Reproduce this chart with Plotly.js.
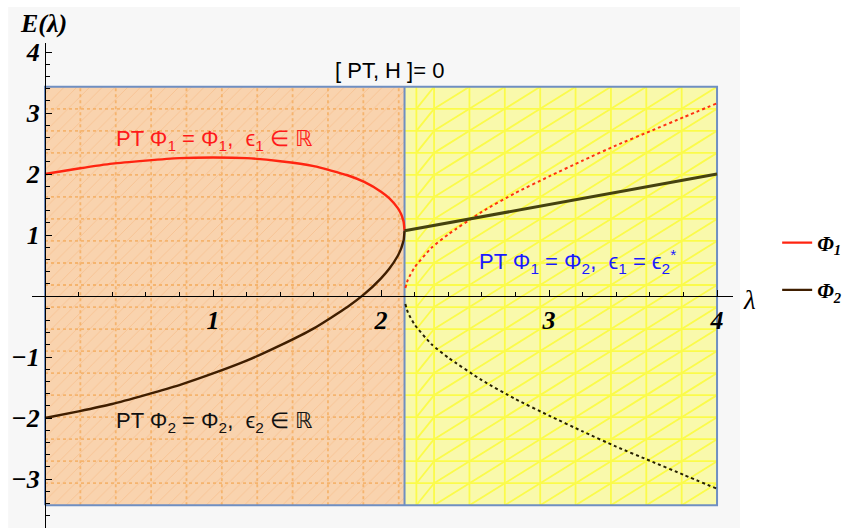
<!DOCTYPE html>
<html>
<head>
<meta charset="utf-8">
<script src="https://cdn.plot.ly/plotly-3.0.1.min.js"></script>
<style>
  html, body { margin: 0; padding: 0; background: #ffffff; }
  #grafico { width: 848px; height: 528px; }
</style>
</head>
<body>
<div id="grafico"></div>
<script>
// valores
const lamReal = [0, 0.2, 0.4, 0.6, 0.8, 1.0, 1.2, 1.4, 1.6, 1.8, 1.9, 2.0, 2.05, 2.1, 2.12, 2.13, 2.135, 2.14];
const phi1Real = [2.00, 2.09, 2.17, 2.22, 2.26, 2.27, 2.26, 2.21, 2.13, 1.98, 1.87, 1.71, 1.60, 1.44, 1.34, 1.26, 1.21, 1.07];
const phi2Real = [-2.00, -1.89, -1.77, -1.62, -1.46, -1.27, -1.06, -0.81, -0.53, -0.18, 0.03, 0.29, 0.45, 0.66, 0.78, 0.87, 0.92, 1.07];

const lamBroken = [2.14, 4.0];
const reBroken = [1.07, 2.0];

const lamImag = [2.145, 2.16, 2.2, 2.3, 2.4, 2.6, 2.8, 3.0, 3.2, 3.4, 3.6, 3.8, 4.0];
const phi1Imag = [0.13, 0.27, 0.47, 0.79, 1.01, 1.38, 1.69, 1.96, 2.22, 2.47, 2.70, 2.93, 3.16];
const phi2Imag = [-0.13, -0.27, -0.47, -0.79, -1.01, -1.38, -1.69, -1.96, -2.22, -2.47, -2.70, -2.93, -3.16];

// regiões
const lamMin = 0;
const lamEP = 2.14;
const lamMax = 4;
const eBottom = -3.43;
const eTop = 3.43;

const xTicks = [1, 2, 3, 4];
const yTicks = [-3, -2, -1, 1, 2, 3, 4];

// malha (só decoração)
const meshN = 19;
const mx = [], my = [];
for (let k = 0; k <= meshN; k++) {
    mx.push(lamMin + k * (lamMax - lamMin) / meshN);
    my.push(eBottom + k * (eTop - eBottom) / meshN);
}

function seg(arr, a, b) { arr.x.push(a[0], b[0], null); arr.y.push(a[1], b[1], null); }

const orangeMesh = { x: [], y: [] };
for (let k = 1; k < meshN; k++) if (mx[k] < lamEP) seg(orangeMesh, [mx[k], eBottom], [mx[k], eTop]);
for (let j = 1; j < meshN; j++) seg(orangeMesh, [lamMin, my[j]], [lamEP, my[j]]);

const yellowMesh = { x: [], y: [] };
const refine = (mx[10] + mx[11]) / 2;
seg(yellowMesh, [refine, eBottom], [refine, eTop]);
for (let k = 1; k < meshN; k++) if (mx[k] > lamEP) seg(yellowMesh, [mx[k], eBottom], [mx[k], eTop]);
for (let j = 1; j < meshN; j++) seg(yellowMesh, [lamEP, my[j]], [lamMax, my[j]]);
for (let j = 0; j < meshN; j++) {
    seg(yellowMesh, [refine, my[j]], [mx[11], my[j + 1]]);
    for (let k = 11; k < meshN; k++) seg(yellowMesh, [mx[k], my[j]], [mx[k + 1], my[j + 1]]);
}

const traces = [
    {
        x: [lamMin, lamEP, lamEP, lamMin, lamMin], y: [eBottom, eBottom, eTop, eTop, eBottom],
        mode: 'lines', fill: 'toself', fillcolor: '#f9d3ae', line: { width: 0 },
        fillpattern: { shape: '/', fgcolor: '#f6c292', bgcolor: '#f9d3ae', size: 9, solidity: 0.1 },
        showlegend: false, hoverinfo: 'skip',
    },
    {
        x: [lamEP, lamMax, lamMax, lamEP, lamEP], y: [eBottom, eBottom, eTop, eTop, eBottom],
        mode: 'lines', fill: 'toself', fillcolor: '#f9f9ab', line: { width: 0 },
        showlegend: false, hoverinfo: 'skip',
    },
    {
        x: orangeMesh.x, y: orangeMesh.y, mode: 'lines',
        line: { color: '#f5b46e', width: 1.8, dash: 'dot' },
        showlegend: false, hoverinfo: 'skip',
    },
    {
        x: yellowMesh.x, y: yellowMesh.y, mode: 'lines',
        line: { color: '#fbfb4a', width: 1.8 },
        showlegend: false, hoverinfo: 'skip',
    },
    {
        x: [lamMin, lamMax, lamMax, lamMin, lamMin, null, lamEP, lamEP],
        y: [eBottom, eBottom, eTop, eTop, eBottom, null, eBottom, eTop],
        mode: 'lines', line: { color: '#6f8fc2', width: 2 },
        showlegend: false, hoverinfo: 'skip',
    },
    {
        x: lamReal, y: phi1Real, mode: 'lines', name: 'Φ<sub>1</sub>', legendgroup: 'a',
        line: { color: '#ff2410', width: 2.4, shape: 'spline', smoothing: 0.5 },
    },
    {
        x: lamReal, y: phi2Real, mode: 'lines', name: 'Φ<sub>2</sub>', legendgroup: 'b',
        line: { color: '#3f1e00', width: 2.4, shape: 'spline', smoothing: 0.5 },
    },
    {
        x: lamImag, y: phi1Imag, mode: 'lines', showlegend: false,
        line: { color: '#ff3010', width: 2, dash: 'dot', shape: 'spline', smoothing: 0.5 },
    },
    {
        x: lamImag, y: phi2Imag, mode: 'lines', showlegend: false,
        line: { color: '#262000', width: 2, dash: 'dot', shape: 'spline', smoothing: 0.5 },
    },
    {
        x: lamBroken, y: reBroken, mode: 'lines', showlegend: false,
        line: { color: '#45420f', width: 3 },
    },
];

const tickFont = { family: 'Liberation Serif, serif', size: 26, color: '#000', weight: 'bold', style: 'italic' };
const sansFont = { family: 'Liberation Sans, Arial, sans-serif', size: 22 };

const layout = {
    width: 848, height: 528,
    margin: { l: 32, r: 115, t: 43, b: 0 },
    paper_bgcolor: '#ffffff',
    plot_bgcolor: 'rgba(0,0,0,0)',
    xaxis: {
        range: [-0.0774, 4.095], anchor: 'free', position: 0.4783,
        showgrid: false, zeroline: false, showline: true, linecolor: '#000', linewidth: 1.2,
        tickmode: 'array', tickvals: xTicks, ticks: 'inside', ticklen: 6, tickcolor: '#000',
        minor: { dtick: 0.2, tick0: 0, ticks: 'inside', ticklen: 4, tickcolor: '#000' },
        tickfont: tickFont, ticklabelstandoff: 1,
    },
    yaxis: {
        range: [-3.803, 4.148], anchor: 'free', position: 0.01855,
        showgrid: false, zeroline: false, showline: true, linecolor: '#000', linewidth: 1.2,
        tickmode: 'array', tickvals: yTicks, ticks: 'inside', ticklen: 6, tickcolor: '#000',
        minor: { dtick: 0.2, tick0: 0, ticks: 'inside', ticklen: 4, tickcolor: '#000' },
        tickfont: tickFont,
    },
    shapes: [{
        type: 'rect', xref: 'paper', yref: 'paper', x0: -0.034, x1: 1.01, y0: -0.02, y1: 1.074,
        fillcolor: '#f7f7f7', line: { width: 0 }, layer: 'below',
    }],
    annotations: [
        { xref: 'paper', yref: 'paper', x: 0.017, y: 1.041, xanchor: 'center', yanchor: 'middle',
          text: 'E(λ)', showarrow: false,
          font: { family: 'Liberation Serif, serif', size: 26, weight: 'bold', style: 'italic', color: '#000' } },
        { xref: 'paper', yref: 'paper', x: 1.024, y: 0.47, xanchor: 'center', yanchor: 'middle',
          text: 'λ', showarrow: false,
          font: { family: 'Liberation Serif, serif', size: 27, style: 'italic', color: '#000' } },
        { x: 2.05, y: 3.70, text: '[ PT, H ]= 0', showarrow: false, font: { ...sansFont, color: '#000' } },
        { x: 1.01, y: 2.56, text: 'PT Φ<sub>1</sub> = Φ<sub>1</sub>,  ϵ<sub>1</sub> ∈ ℝ', showarrow: false,
          font: { ...sansFont, color: '#ff1a1a' } },
        { x: 1.01, y: -2.07, text: 'PT Φ<sub>2</sub> = Φ<sub>2</sub>,  ϵ<sub>2</sub> ∈ ℝ', showarrow: false,
          font: { ...sansFont, color: '#111' } },
        { x: 3.17, y: 0.56, text: 'PT Φ<sub>1</sub> = Φ<sub>2</sub>,  ϵ<sub>1</sub> = ϵ<sub>2</sub><sup>*</sup>', showarrow: false,
          font: { ...sansFont, color: '#1a1aff' } },
    ],
    legend: {
        x: 1.063, y: 0.63, xanchor: 'left', yanchor: 'top',
        bgcolor: 'rgba(0,0,0,0)', itemwidth: 30, tracegroupgap: 17,
        font: { family: 'Liberation Serif, serif', size: 21, weight: 'bold', style: 'italic', color: '#000' },
    },
};

Plotly.newPlot('grafico', traces, layout, { displayModeBar: false, staticPlot: true });
</script>
</body>
</html>
